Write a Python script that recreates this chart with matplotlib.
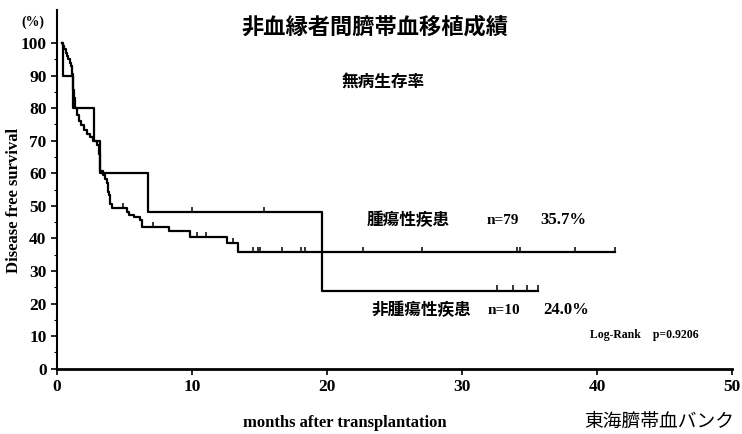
# 非血縁者間臍帯血移植成績 : 無病生存率 (Kaplan-Meier)
import numpy as np
import matplotlib
matplotlib.use("Agg")
import matplotlib.pyplot as plt

# 腫瘍性疾患 n=79 : 時間(月) と 生存率(%)
neo_t = [0.35, 0.45, 0.55, 0.65, 0.75, 0.85, 0.95, 1.05, 1.12, 1.18, 1.22, 1.27,
         1.33, 1.45, 1.6, 1.75, 2.0, 2.25, 2.45, 2.7, 2.95, 3.08, 3.15, 3.22,
         3.4, 3.55, 3.68, 3.75, 3.8, 3.86, 3.9, 3.95, 4.05, 5.2, 5.35, 5.7,
         6.15, 6.3, 8.3, 9.85, 12.6, 13.4, 41.3]
neo_s = [100, 99, 98, 97, 96, 95, 94, 93, 90.5, 88, 85.5, 83,
         80, 78, 76, 74.7, 73.4, 72.2, 71, 69.9, 68.6, 66, 63.5, 60.8,
         59.5, 58.2, 57, 55.7, 54.4, 53.2, 51.9, 50.6, 49.4, 48.1, 47.2, 46.6,
         45.6, 43.5, 42.3, 40.5, 38.5, 35.7, 35.7]
neo_cens = [4.9, 7.1, 10.4, 11.0, 13.0, 14.5, 14.9, 15.0, 16.7, 18.1, 18.4,
            19.6, 22.7, 27.0, 34.1, 34.3, 38.4, 41.3]
neo_n = 79

# 非腫瘍性疾患 n=10
non_t = [0.37, 0.45, 1.2, 2.75, 3.2, 6.75, 19.6, 35.6]
non_s = [100, 90, 80, 70, 60, 48, 24, 24]
non_cens = [10.0, 15.3, 32.6, 33.8, 34.8, 35.6]
non_n = 10

x_ticks = [0, 10, 20, 30, 40, 50]
y_ticks = [0, 10, 20, 30, 40, 50, 60, 70, 80, 90, 100]

W, H = 742, 434
serif = "Liberation Serif"
jp = ["Noto Sans CJK JP", "DejaVu Sans"]


def px(x, y):
    return x / W, 1 - y / H


def level_at(t, s, tc):
    i = np.searchsorted(t, tc, side="right") - 1
    return np.array(s)[np.clip(i, 0, len(s) - 1)]


fig = plt.figure(figsize=(W / 100, H / 100), dpi=100)
ax = fig.add_axes([57 / W, 0.1505, 675 / W, 0.8255])

for t, s, cens in [(neo_t, neo_s, neo_cens), (non_t, non_s, non_cens)]:
    ax.step(t, s, where="post", color="black", lw=1.6)
    lv = level_at(t, s, cens)
    ax.vlines(cens, lv, lv + 1.6, color="black", lw=1.1)

ax.set_xlim(0, 50)
ax.set_ylim(0, 110)
ax.set_xticks(x_ticks)
ax.set_yticks(y_ticks)
ax.set_yticks(np.arange(5, 100, 10), minor=True)
ax.spines["top"].set_visible(False)
ax.spines["right"].set_visible(False)
ax.spines["bottom"].set_linewidth(2.0)
ax.spines["left"].set_linewidth(1.5)
ax.tick_params(axis="both", which="major", length=4, width=1.2, direction="out")
ax.tick_params(axis="y", which="minor", length=2, width=0.8)
for lab in ax.get_xticklabels() + ax.get_yticklabels():
    lab.set_fontfamily(serif)
    lab.set_fontweight("bold")
    lab.set_fontsize(12.5)

fig.text(*px(14, 200), "Disease free survival", rotation=90, ha="center",
         va="center", family=serif, weight="bold", fontsize=12)
fig.text(*px(345, 423), "months after transplantation", ha="center",
         va="center", family=serif, weight="bold", fontsize=12)
fig.text(*px(33, 22), "(%)", ha="center", va="center", family=serif,
         weight="bold", fontsize=10)

fig.text(*px(375, 27), "非血縁者間臍帯血移植成績", ha="center", va="center",
         family=jp, weight="bold", fontsize=16)
fig.text(*px(383, 82), "無病生存率", ha="center", va="center",
         family=jp, weight="bold", fontsize=12)

fig.text(*px(367, 220), "腫瘍性疾患", ha="left", va="center",
         family=jp, weight="bold", fontsize=12)
fig.text(*px(487, 220), f"n={neo_n}", ha="left", va="center",
         family=serif, weight="bold", fontsize=11)
fig.text(*px(540, 220), f"{neo_s[-1]:.1f}%", ha="left", va="center",
         family=serif, weight="bold", fontsize=12)

fig.text(*px(372, 310), "非腫瘍性疾患", ha="left", va="center",
         family=jp, weight="bold", fontsize=12)
fig.text(*px(488, 310), f"n={non_n}", ha="left", va="center",
         family=serif, weight="bold", fontsize=11)
fig.text(*px(543, 310), f"{non_s[-1]:.1f}%", ha="left", va="center",
         family=serif, weight="bold", fontsize=12)

fig.text(*px(590, 335), "Log-Rank    p=0.9206", ha="left", va="center",
         family=serif, weight="bold", fontsize=8.5)

fig.text(*px(584, 432), "東海臍帯血バンク", ha="left", va="bottom",
         family=jp, fontsize=13.5)

fig.savefig("out.png", dpi=100)
